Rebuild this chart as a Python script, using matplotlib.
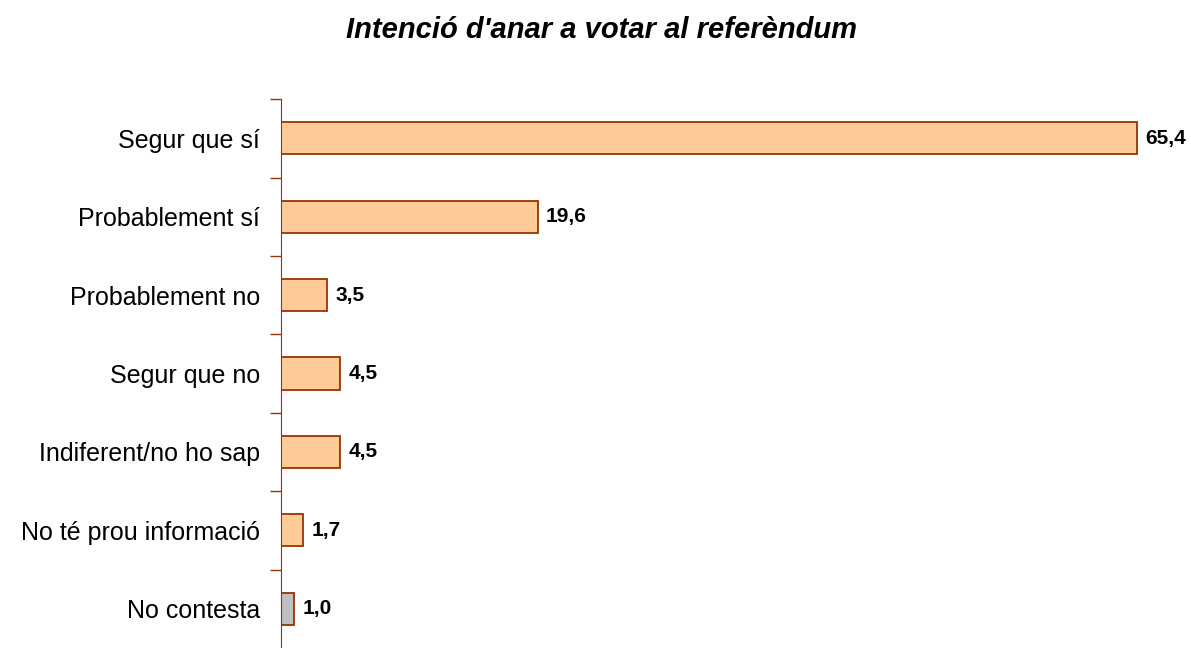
import numpy as np
import matplotlib.pyplot as plt

plt.rcParams['font.family'] = ['Liberation Sans', 'DejaVu Sans']

categories = ['Segur que sí', 'Probablement sí', 'Probablement no', 'Segur que no',
              'Indiferent/no ho sap', 'No té prou informació', 'No contesta']
values = [65.4, 19.6, 3.5, 4.5, 4.5, 1.7, 1.0]
labels = ['65,4', '19,6', '3,5', '4,5', '4,5', '1,7', '1,0']

edge = '#993300'
colors = ['#FFCC99'] * 6 + ['#C0C0C0']

fig = plt.figure(figsize=(11.91, 6.48), dpi=100)
ax = fig.add_axes([0.236, 0.0, 0.747, 0.847])

y = np.arange(len(categories))
ax.barh(y, values, height=0.41, color=colors, edgecolor=edge, linewidth=1.3)
for yi, v, lab in zip(y, values, labels):
    ax.text(v + 0.65, yi, lab, va='center', ha='left', fontsize=15, fontweight='bold')

ax.set_xlim(0, 68)
ax.set_ylim(6.5, -0.5)
ax.set_yticks(y)
ax.set_yticklabels(categories, fontsize=18)
ax.tick_params(axis='y', which='major', length=0, pad=15)
ax.set_yticks(np.arange(-0.5, 6.5, 1), minor=True)
ax.tick_params(axis='y', which='minor', length=8, color=edge, width=1)
ax.set_xticks([])
for s in ['top', 'right', 'bottom']:
    ax.spines[s].set_visible(False)
ax.spines['left'].set_color(edge)

fig.text(0.505, 0.953, "Intenció d'anar a votar al referèndum", ha='center', va='center',
         fontsize=21, fontweight='bold', fontstyle='italic')

fig.savefig('out.png', dpi=100)
